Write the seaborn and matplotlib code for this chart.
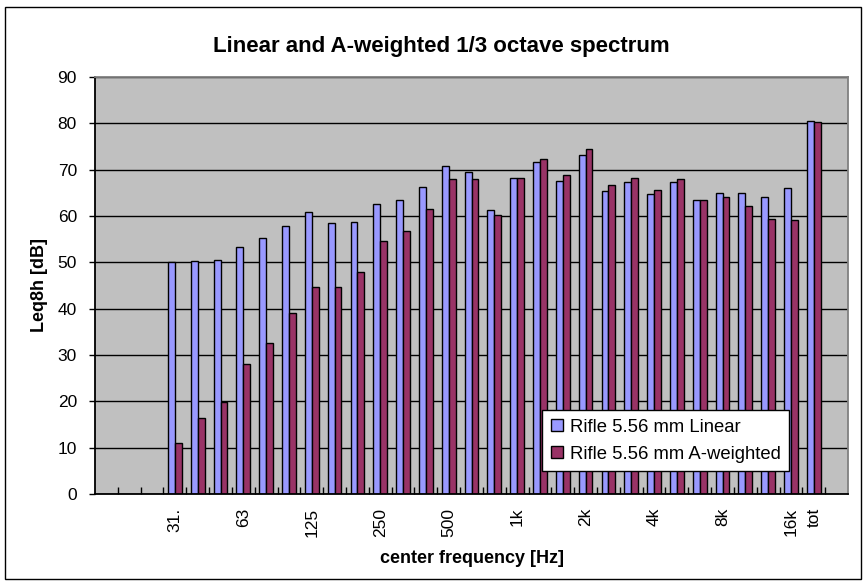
import numpy as np
import pandas as pd
import matplotlib
matplotlib.use("Agg")
import matplotlib.pyplot as plt
import seaborn as sns
from matplotlib.patches import Rectangle

# 1/3 octave bands (31.5 Hz .. 16 kHz) plus total
bands = ['31.5', '40', '50', '63', '80', '100', '125', '160', '200', '250',
         '315', '400', '500', '630', '800', '1k', '1.25k', '1.6k', '2k',
         '2.5k', '3.15k', '4k', '5k', '6.3k', '8k', '10k', '12.5k', '16k', 'tot']
linear = [50.0, 50.2, 50.6, 53.4, 55.3, 57.8, 60.9, 58.4, 58.7, 62.5,
          63.5, 66.3, 70.7, 69.4, 61.2, 68.2, 71.7, 67.6, 73.2,
          65.4, 67.3, 64.8, 67.3, 63.5, 65.0, 65.0, 64.1, 66.0, 80.5]
a_weighted = [10.9, 16.4, 19.9, 28.1, 32.5, 39.1, 44.7, 44.7, 48.0, 54.6,
              56.8, 61.6, 67.9, 67.9, 60.3, 68.2, 72.3, 68.9, 74.5,
              66.6, 68.2, 65.7, 68.0, 63.5, 64.1, 62.2, 59.4, 59.1, 80.3]
series_names = ['Rifle 5.56 mm Linear', 'Rifle 5.56 mm A-weighted']
tick_pos = [0, 3, 6, 9, 12, 15, 18, 21, 24, 27, 28]
tick_labels = ['31.', '63', '125', '250', '500', '1k', '2k', '4k', '8k', '16k', 'tot']

df = pd.DataFrame({
    'band': bands * 2,
    'level': linear + a_weighted,
    'series': [series_names[0]] * len(bands) + [series_names[1]] * len(bands),
})

plt.rcParams['font.family'] = ['Liberation Sans', 'DejaVu Sans']

fig = plt.figure(figsize=(8.68, 5.85), dpi=100)
ax = fig.add_axes([95 / 868, 91 / 585, 753 / 868, 417 / 585])

sns.barplot(data=df, x='band', y='level', hue='series', order=bands,
            palette=['#9999FF', '#993366'], width=0.6, saturation=1,
            edgecolor='black', linewidth=1, ax=ax)

ax.set_facecolor('#C0C0C0')
ax.set_xlim(-3.5, len(bands) + 0.5)
ax.set_ylim(0, 90)
ax.set_yticks(np.arange(0, 91, 10))
ax.yaxis.grid(True, color='black', linewidth=1)
ax.set_axisbelow(True)

ax.set_xticks(tick_pos)
ax.set_xticklabels(tick_labels, rotation=90)
ax.set_xticks(np.arange(-2.5, len(bands) + 0.5, 1), minor=True)
ax.tick_params(axis='x', which='major', length=0, pad=10, labelsize=12.5)
ax.tick_params(axis='x', which='minor', direction='in', length=5, width=1)
ax.tick_params(axis='y', length=4, width=1, pad=9, labelsize=12.5)

for side in ['left', 'bottom']:
    ax.spines[side].set_color('black')
    ax.spines[side].set_linewidth(1.3)
for side in ['top', 'right']:
    ax.spines[side].set_color('#808080')
    ax.spines[side].set_linewidth(1.3)

ax.set_xlabel('center frequency [Hz]', fontsize=13, fontweight='bold', labelpad=9)
ax.set_ylabel('Leq8h [dB]', fontsize=13, fontweight='bold', labelpad=7)

leg = ax.legend(loc='lower left', bbox_to_anchor=(0.594, 0.055), borderaxespad=0,
                fontsize=13.3, frameon=True, fancybox=False, framealpha=1,
                edgecolor='black', handlelength=0.65, handleheight=0.65,
                handletextpad=0.4, borderpad=0.45, labelspacing=0.55)
leg.get_frame().set_linewidth(1)

fig.text(0.509, 0.921, 'Linear and A-weighted 1/3 octave spectrum',
         ha='center', va='center', fontsize=16, fontweight='bold')

fig.patches.append(Rectangle((0.006, 0.01), 0.986, 0.978, transform=fig.transFigure,
                             fill=False, edgecolor='black', linewidth=1))

fig.savefig('out.png', dpi=100)
